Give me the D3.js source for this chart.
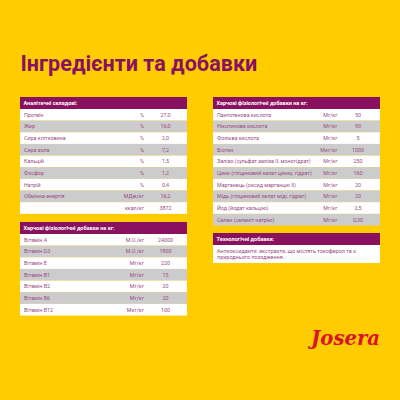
<!DOCTYPE html>
<html><head><meta charset="utf-8">
<script src="https://cdn.jsdelivr.net/npm/d3@7"></script>
<style>html,body{margin:0;padding:0;background:#FFCC00}svg{display:block}text{font-family:Roboto,sans-serif}</style>
</head><body><svg id="c" width="400" height="400"></svg>
<script>
const title = "Інгредієнти та добавки";
const h1 = "Аналітичні складові:";
const n1 = ["Протеїн","Жир","Сира клітковина","Сира зола","Кальцій","Фосфор","Натрій","Обмінна енергія",""];
const u1 = ["%","%","%","%","%","%","%","МДж/кг","ккал/кг"];
const v1 = ["27,0","16,0","2,0","7,2","1,5","1,2","0,4","16,2","3872"];
const h2 = "Харчові фізіологічні добавки на кг:";
const n2 = ["Вітамін A","Вітамін D3","Вітамін E","Вітамін B1","Вітамін B2","Вітамін B6","Вітамін B12"];
const u2 = ["М.О./кг","М.О./кг","Мг/кг","Мг/кг","Мг/кг","Мг/кг","Мкг/кг"];
const v2 = ["24000","1800","220","15","20","20","100"];
const h3 = "Харчові фізіологічні добавки на кг:";
const n3 = ["Пантотенова кислота","Нікотинова кислота","Фолієва кислота","Біотин","Залізо (сульфат заліза II, моногідрат)","Цинк (гліциновий хелат цинку, гідрат)","Марганець (оксид марганцю II)","Мідь (гліциновий хелат міді, гідрат)","Йод (йодат кальцію)","Селен (селеніт натрію)"];
const u3 = ["Мг/кг","Мг/кг","Мг/кг","Мкг/кг","Мг/кг","Мг/кг","Мг/кг","Мг/кг","Мг/кг","Мг/кг"];
const v3 = ["50","90","5","1000","250","160","20","20","2,5","0,30"];
const h4 = "Технологічні добавки:";
const t4 = ["Антиоксиданти: екстракти, що містять токоферол та є","природнього походження."];
const logo = "Josera";

const svg = d3.select("#c");
const PURPLE = "#8A1060", GREY = "#CCCCCC", TXT = "#9A4A85";
const FS = 5.35, HS = 5.5;
svg.append("rect").attr("width",400).attr("height",400).attr("fill","#FFCC00");
svg.append("text").attr("x",20.5).attr("y",70.5).attr("font-size",21.6).attr("font-weight",700)
  .attr("fill",PURPLE).text(title);

function table(x0,x1,y0,head,names,units,vals,ux,vx){
  const rowH = 11.65, headH = 12;
  const y = d3.scaleBand().domain(d3.range(names.length))
    .range([y0+headH, y0+headH+rowH*names.length]);
  const g = svg.append("g");
  g.append("rect").attr("x",x0).attr("y",y0).attr("width",x1-x0).attr("height",headH).attr("fill",PURPLE);
  g.append("text").attr("x",x0+3.5).attr("y",y0+8).attr("font-size",HS).attr("font-weight",700).attr("fill","#fff").text(head);
  const r = g.selectAll("g.r").data(names).join("g").attr("class","r")
    .attr("transform",(d,i)=>`translate(0,${y(i)})`);
  r.append("rect").attr("x",x0).attr("width",x1-x0).attr("height",y.bandwidth())
    .attr("fill",(d,i)=>i%2? GREY:"#fff");
  const by = y.bandwidth()/2+1.9;
  r.append("text").attr("x",x0+4).attr("y",by).attr("font-size",FS).attr("fill",TXT).text(d=>d);
  r.append("text").attr("x",ux).attr("y",by).attr("text-anchor","end").attr("font-size",FS).attr("fill",TXT).text((d,i)=>units[i]);
  r.append("text").attr("x",vx).attr("y",by).attr("text-anchor","middle").attr("font-size",FS).attr("fill",TXT).text((d,i)=>vals[i]);
}
table(20,187,97,h1,n1,u1,v1,144,165.5);
table(20,187,222,h2,n2,u2,v2,144,165.5);
table(213,380,97,h3,n3,u3,v3,337.5,358);

const g4 = svg.append("g");
g4.append("rect").attr("x",213).attr("y",233).attr("width",167).attr("height",12).attr("fill",PURPLE);
g4.append("text").attr("x",216.5).attr("y",241).attr("font-size",HS).attr("font-weight",700).attr("fill","#fff").text(h4);
g4.append("rect").attr("x",213).attr("y",245).attr("width",167).attr("height",18).attr("fill","#fff");
g4.selectAll("text.b").data(t4).join("text").attr("class","b").attr("x",217)
  .attr("y",(d,i)=>252.9+i*6.5).attr("font-size",5.45).attr("fill",TXT).text(d=>d);

svg.append("text").attr("x",311).attr("y",345).attr("font-size",21)
  .attr("font-style","italic").attr("font-weight",700).attr("textLength",69).attr("lengthAdjust","spacingAndGlyphs")
  .style("font-family","'DejaVu Serif',serif").attr("fill","#D8142A").text(logo);
</script></body></html>
